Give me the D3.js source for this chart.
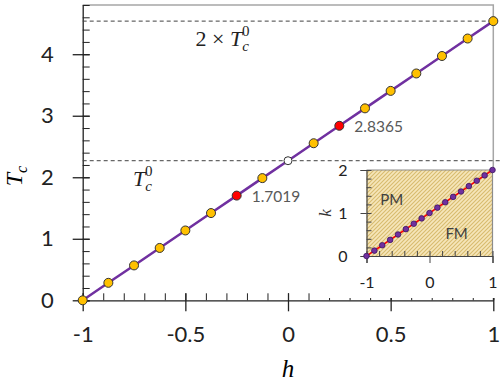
<!DOCTYPE html>
<html>
<head>
<meta charset="utf-8">
<script src="https://cdn.jsdelivr.net/npm/d3@7"></script>
<style>
  body { margin: 0; background: #fff; }
  svg { display: block; }
  .tick text { font-family: Lato, "Open Sans", sans-serif; fill: #222; }
</style>
</head>
<body>
<div id="chart"></div>
<script>
// main series: critical temperature vs field h
const hValues = [-1, -0.875, -0.75, -0.625, -0.5, -0.375, -0.25, -0.125, 0,
  0.125, 0.25, 0.375, 0.5, 0.625, 0.75, 0.875, 1];
const tcValues = [0, 0.284, 0.567, 0.851, 1.135, 1.418, 1.7019, 1.986, 2.269,
  2.553, 2.8365, 3.12, 3.404, 3.687, 3.971, 4.255, 4.538];
const pointKind = ["gold", "gold", "gold", "gold", "gold", "gold", "red", "gold", "open",
  "gold", "red", "gold", "gold", "gold", "gold", "gold", "gold"];
const pointLabels = [null, null, null, null, null, null, "1.7019", null, null,
  null, "2.8365", null, null, null, null, null, null];
const refLevels = [2.269, 4.538];

// inset: k vs h
const insetH = [-1, -0.875, -0.75, -0.625, -0.5, -0.375, -0.25, -0.125, 0,
  0.125, 0.25, 0.375, 0.5, 0.625, 0.75, 0.875, 1];
const insetK = [0, 0.125, 0.25, 0.375, 0.5, 0.625, 0.75, 0.875, 1,
  1.125, 1.25, 1.375, 1.5, 1.625, 1.75, 1.875, 2];

const xMajor = [-1, -0.5, 0, 0.5, 1];
const yMajor = [0, 1, 2, 3, 4];
const insetXTicks = [-1, 0, 1];
const insetYTicks = [0, 1, 2];

const width = 503, height = 383;
const fills = { gold: "#FFC000", red: "#FF0000", open: "#FFFFFF" };
const fmt = d => String(d);

const svg = d3.select("#chart").append("svg")
  .attr("width", width).attr("height", height);

const x = d3.scaleLinear().domain([-1, 1]).range([82.7, 493.3]);
const y = d3.scaleLinear().domain([0, 4.8]).range([300.3, 5]);

// frame (top / right)
svg.append("path")
  .attr("d", `M${x(-1)},${y(4.8)}H${x(1)}V${y(0)}`)
  .attr("fill", "none").attr("stroke", "#A6A6A6").attr("stroke-width", 1.5);

// x axis
const xMinor = d3.range(-1, 1.0001, 0.1).map(v => +v.toFixed(2));
svg.append("g").attr("transform", `translate(0,${y(0)})`)
  .call(d3.axisBottom(x).tickValues(xMinor).tickSize(-7).tickFormat(""))
  .call(g => g.select(".domain").remove())
  .selectAll("line").attr("stroke", "#222");
const xAxis = svg.append("g").attr("transform", `translate(0,${y(0)})`)
  .call(d3.axisBottom(x).tickValues(xMajor).tickSizeOuter(0).tickFormat(fmt));
xAxis.select(".domain").attr("stroke", "#222").attr("stroke-width", 1.3);
xAxis.selectAll(".tick line").attr("y1", -7).attr("y2", 11).attr("stroke", "#222").attr("stroke-width", 1.3);
xAxis.selectAll(".tick text").attr("y", 26).style("font-size", "22px");

// y axis
const yMinor = d3.range(0, 4.8001, 0.2).map(v => +v.toFixed(2));
svg.append("g").attr("transform", `translate(${x(-1)},0)`)
  .call(d3.axisLeft(y).tickValues(yMinor).tickSize(-7).tickFormat(""))
  .call(g => g.select(".domain").remove())
  .selectAll("line").attr("stroke", "#222");
const yAxis = svg.append("g").attr("transform", `translate(${x(-1)},0)`)
  .call(d3.axisLeft(y).tickValues(yMajor).tickSizeOuter(0).tickFormat(fmt));
yAxis.select(".domain").attr("stroke", "#222").attr("stroke-width", 1.3);
yAxis.selectAll(".tick line").attr("x1", -10).attr("x2", 7).attr("stroke", "#222").attr("stroke-width", 1.3);
yAxis.selectAll(".tick text").attr("x", -29).style("font-size", "22px");

// axis titles
const mathFont = "'Liberation Serif', 'DejaVu Serif', serif";
svg.append("text")
  .attr("x", x(0)).attr("y", 377)
  .attr("text-anchor", "middle")
  .style("font-family", mathFont).style("font-style", "italic").style("font-size", "25px")
  .text("h");
const yTitle = svg.append("text")
  .attr("transform", "translate(22,176) rotate(-90)")
  .attr("text-anchor", "middle")
  .style("font-family", mathFont).style("font-style", "italic").style("font-size", "24px");
yTitle.append("tspan").text("T");
yTitle.append("tspan").attr("dy", 5).style("font-size", "16px").text("c");

// ---- inset background (keeps the frame from showing through) ----
const ix = d3.scaleLinear().domain([-1, 1]).range([366.5, 492.5]);
const iy = d3.scaleLinear().domain([0, 2]).range([256, 170]);
svg.append("rect")
  .attr("x", 318).attr("y", iy(2) - 2)
  .attr("width", width - 318).attr("height", 130)
  .attr("fill", "#fff");

// dashed reference lines
svg.selectAll("line.ref").data(refLevels).join("line")
  .attr("class", "ref")
  .attr("x1", x(-1)).attr("x2", (d, i) => i === 0 ? width - 2 : x(1))
  .attr("y1", d => y(d)).attr("y2", d => y(d))
  .attr("stroke", "#404040").attr("stroke-width", 1)
  .attr("stroke-dasharray", "4,3");

// line + points
const line = d3.line().x((d, i) => x(hValues[i])).y(d => y(d));
svg.append("path").datum(tcValues)
  .attr("d", line)
  .attr("fill", "none").attr("stroke", "#7030A0").attr("stroke-width", 2.5);

svg.selectAll("circle.pt").data(tcValues).join("circle")
  .attr("class", "pt")
  .attr("cx", (d, i) => x(hValues[i])).attr("cy", d => y(d))
  .attr("r", (d, i) => pointKind[i] === "open" ? 4 : 4.5)
  .attr("fill", (d, i) => fills[pointKind[i]])
  .attr("stroke", "#333").attr("stroke-width", 1);

svg.selectAll("text.val").data(tcValues.map((d, i) => ({ h: hValues[i], v: d, t: pointLabels[i] })).filter(d => d.t))
  .join("text").attr("class", "val")
  .attr("x", d => x(d.h) + 15).attr("y", d => y(d.v) + 6)
  .style("font-family", "Lato, 'Open Sans', sans-serif").style("font-size", "15.5px")
  .attr("fill", "#595959")
  .text(d => d.t);

// T_c^0 labels
function tcLabel(px, py, prefix) {
  const t = svg.append("text").attr("x", px).attr("y", py)
    .style("font-family", mathFont).style("font-size", "22px").attr("fill", "#222");
  if (prefix) t.append("tspan").text(prefix);
  t.append("tspan").style("font-style", "italic").text("T");
  t.append("tspan").attr("dy", 5).style("font-style", "italic").style("font-size", "15px").text("c");
  t.append("tspan").attr("dx", -7).attr("dy", -15).style("font-size", "15px").text("0");
}
tcLabel(x(-0.45), y(refLevels[1]) + 25, "2 × ");
tcLabel(x(-0.755), y(refLevels[0]) + 25, null);

// ---- inset ----
const defs = svg.append("defs");
const pat = defs.append("pattern").attr("id", "hatch")
  .attr("patternUnits", "userSpaceOnUse").attr("width", 4).attr("height", 4);
pat.append("rect").attr("width", 4).attr("height", 4).attr("fill", "#F6E6BA");
pat.append("path").attr("d", "M-1,1l2,-2M0,4l4,-4M3,5l2,-2")
  .attr("stroke", "#D8BB6E").attr("stroke-width", 1.1);

svg.append("rect")
  .attr("x", ix(-1)).attr("y", iy(2))
  .attr("width", ix(1) - ix(-1)).attr("height", iy(0) - iy(2))
  .attr("fill", "url(#hatch)");
svg.append("path")
  .attr("d", `M${ix(-1)},${iy(2)}H${ix(1)}V${iy(0)}`)
  .attr("fill", "none").attr("stroke", "#8C8C8C").attr("stroke-width", 1.2);

const ixMinor = d3.range(-1, 1.0001, 0.2).map(v => +v.toFixed(2));
svg.append("g").attr("transform", `translate(0,${iy(0)})`)
  .call(d3.axisBottom(ix).tickValues(ixMinor).tickSize(-5).tickFormat(""))
  .call(g => g.select(".domain").remove())
  .selectAll("line").attr("stroke", "#444");
const ixAxis = svg.append("g").attr("transform", `translate(0,${iy(0)})`)
  .call(d3.axisBottom(ix).tickValues(insetXTicks).tickSizeOuter(0).tickSize(7).tickFormat(fmt));
ixAxis.select(".domain").attr("stroke", "#444").attr("stroke-width", 1.2);
ixAxis.selectAll(".tick line").attr("stroke", "#444");
ixAxis.selectAll(".tick text").attr("y", 21).style("font-size", "16px").attr("fill", "#333");

const iyMinor = d3.range(0, 2.0001, 0.2).map(v => +v.toFixed(2));
svg.append("g").attr("transform", `translate(${ix(-1)},0)`)
  .call(d3.axisLeft(iy).tickValues(iyMinor).tickSize(-5).tickFormat(""))
  .call(g => g.select(".domain").remove())
  .selectAll("line").attr("stroke", "#444");
const iyAxis = svg.append("g").attr("transform", `translate(${ix(-1)},0)`)
  .call(d3.axisLeft(iy).tickValues(insetYTicks).tickSizeOuter(0).tickSize(6).tickFormat(fmt));
iyAxis.select(".domain").attr("stroke", "#444").attr("stroke-width", 1.2);
iyAxis.selectAll(".tick line").attr("stroke", "#444");
iyAxis.selectAll(".tick text").attr("x", -19).style("font-size", "16px").attr("fill", "#333");

svg.append("text")
  .attr("transform", `translate(331,${iy(1)}) rotate(-90)`)
  .attr("text-anchor", "middle")
  .style("font-family", mathFont).style("font-style", "italic").style("font-size", "17px")
  .attr("fill", "#333")
  .text("k");

const iline = d3.line().x((d, i) => ix(insetH[i])).y(d => iy(d));
svg.append("path").datum(insetK).attr("d", iline)
  .attr("fill", "none").attr("stroke", "#FF0000").attr("stroke-width", 1.6);
svg.selectAll("circle.ipt").data(insetK).join("circle")
  .attr("class", "ipt")
  .attr("cx", (d, i) => ix(insetH[i])).attr("cy", d => iy(d))
  .attr("r", 2.8)
  .attr("fill", "#7030A0").attr("stroke", "#3B1660").attr("stroke-width", 0.8);

svg.append("text").attr("x", ix(-0.6)).attr("y", iy(1.18))
  .attr("text-anchor", "middle")
  .style("font-family", "Lato, 'Open Sans', sans-serif").style("font-size", "15px")
  .attr("fill", "#404040").text("PM");
svg.append("text").attr("x", ix(0.43)).attr("y", iy(0.4))
  .attr("text-anchor", "middle")
  .style("font-family", "Lato, 'Open Sans', sans-serif").style("font-size", "15px")
  .attr("fill", "#404040").text("FM");
</script>
</body>
</html>
